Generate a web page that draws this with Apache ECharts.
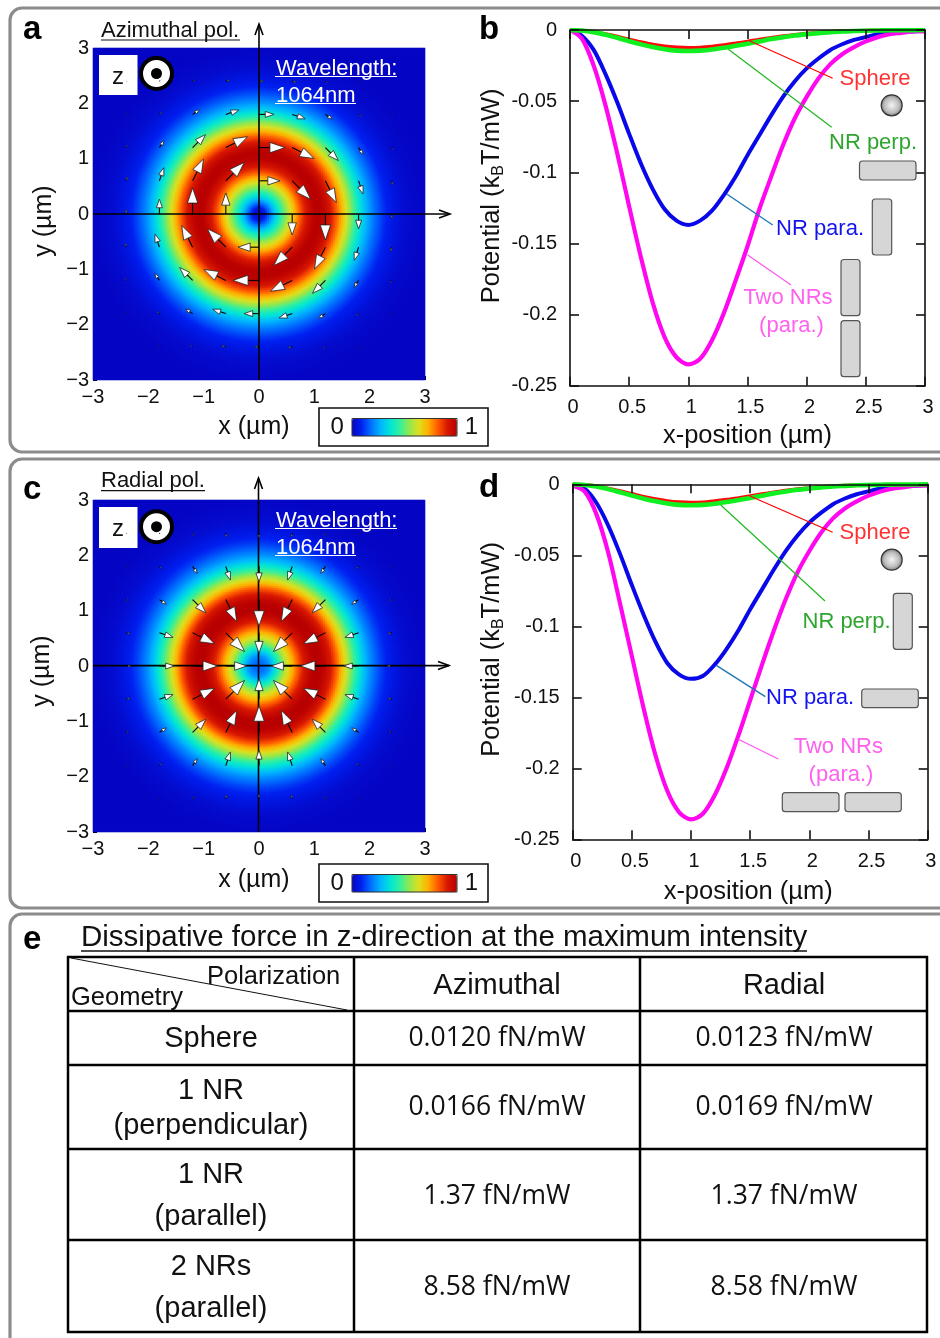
<!DOCTYPE html>
<html><head><meta charset="utf-8">
<style>html,body{margin:0;padding:0;background:#fff}#c{width:940px;height:1338px}</style>
<script src="https://cdn.jsdelivr.net/npm/echarts@6/dist/echarts.min.js"></script>
</head><body><div id="c"></div>
<script>
// ---------- data ----------
const xPositions = [0,0.1,0.2,0.3,0.4,0.5,0.6,0.7,0.8,0.9,1,1.1,1.2,1.3,1.4,1.5,1.6,1.7,1.8,1.9,2,2.1,2.2,2.3,2.4,2.5,2.6,2.7,2.8,2.9,3];
const twoNRsB = [0,-0.006,-0.025,-0.053,-0.087,-0.124,-0.160,-0.192,-0.216,-0.230,-0.235,-0.231,-0.218,-0.199,-0.176,-0.152,-0.126,-0.103,-0.081,-0.062,-0.047,-0.034,-0.024,-0.017,-0.012,-0.008,-0.005,-0.003,-0.002,-0.001,-0.001];
const nrParaB = [0,-0.004,-0.014,-0.031,-0.051,-0.073,-0.094,-0.112,-0.126,-0.134,-0.137,-0.134,-0.127,-0.116,-0.103,-0.088,-0.074,-0.060,-0.047,-0.036,-0.027,-0.020,-0.014,-0.010,-0.007,-0.005,-0.003,-0.002,-0.001,-0.001,0];
const nrPerpB = [0,-0.0004,-0.0015,-0.0033,-0.0055,-0.0079,-0.0101,-0.0120,-0.0135,-0.0145,-0.0148,-0.0145,-0.0137,-0.0125,-0.0111,-0.0096,-0.0080,-0.0064,-0.0051,-0.0039,-0.0030,-0.0022,-0.0015,-0.0011,-0.0007,-0.0005,-0.0003,-0.0002,-0.0001,-0.0001,0];
const sphereB = [0,-0.0003,-0.0013,-0.0028,-0.0046,-0.0066,-0.0085,-0.0102,-0.0115,-0.0122,-0.0125,-0.0123,-0.0116,-0.0106,-0.0094,-0.0081,-0.0067,-0.0055,-0.0043,-0.0033,-0.0025,-0.0018,-0.0013,-0.0009,-0.0006,-0.0004,-0.0003,-0.0002,-0.0001,-0.0001,0];
const twoNRsD = [-0.001,-0.005,-0.021,-0.048,-0.084,-0.121,-0.158,-0.191,-0.216,-0.231,-0.236,-0.232,-0.219,-0.200,-0.177,-0.152,-0.127,-0.103,-0.081,-0.062,-0.047,-0.034,-0.024,-0.017,-0.012,-0.008,-0.005,-0.003,-0.002,-0.001,-0.001];
const nrParaD = [-0.001,-0.003,-0.013,-0.029,-0.049,-0.071,-0.092,-0.111,-0.126,-0.134,-0.137,-0.135,-0.127,-0.116,-0.103,-0.088,-0.074,-0.060,-0.047,-0.036,-0.027,-0.020,-0.014,-0.010,-0.007,-0.005,-0.003,-0.002,-0.001,-0.001,0];
const nrPerpD = [0,-0.0005,-0.0016,-0.0034,-0.0056,-0.0079,-0.0101,-0.0120,-0.0135,-0.0145,-0.0148,-0.0145,-0.0137,-0.0125,-0.0111,-0.0096,-0.0080,-0.0064,-0.0051,-0.0039,-0.0030,-0.0022,-0.0015,-0.0011,-0.0007,-0.0005,-0.0003,-0.0002,-0.0001,-0.0001,0];
const sphereD = [0,-0.0003,-0.0013,-0.0029,-0.0047,-0.0067,-0.0087,-0.0104,-0.0117,-0.0125,-0.0128,-0.0126,-0.0118,-0.0108,-0.0096,-0.0083,-0.0069,-0.0056,-0.0044,-0.0034,-0.0026,-0.0018,-0.0013,-0.0009,-0.0006,-0.0004,-0.0003,-0.0002,-0.0001,-0.0001,0];

// intensity against radius (one value each 0.1 µm), colour scale and arrow grid
const ringAzimuthal = [0,0.06,0.19,0.32,0.44,0.55,0.66,0.77,0.87,0.94,0.99,1,0.97,0.91,0.82,0.72,0.61,0.5,0.4,0.31,0.24,0.18,0.135,0.095,0.07,0.05,0.03,0.02,0.012,0.006,0.002,0];
const ringRadial = [0.17,0.18,0.24,0.36,0.49,0.61,0.71,0.81,0.9,0.96,1,1,0.97,0.91,0.82,0.71,0.6,0.49,0.39,0.3,0.23,0.175,0.13,0.095,0.07,0.05,0.03,0.02,0.012,0.006,0.002,0];
const jetColors = ['#0606c4','#0020f0','#0070ff','#00b4ff','#00e4d8','#30f0a0','#90e850','#dce020','#ffb000','#ff5a00','#d81800','#b80000'];
const arrowGrid = [-2.4,-1.8,-1.2,-0.6,0,0.6,1.2,1.8,2.4];
const arrowLengthsAzimuthal = [
 [0.005,0.015,0.04,0.07,0.08,0.07,0.04,0.015,0.005],
 [0.015,0.05,0.15,0.25,0.27,0.25,0.15,0.05,0.015],
 [0.04,0.15,0.33,0.44,0.47,0.44,0.33,0.15,0.04],
 [0.07,0.25,0.44,0.47,0.38,0.47,0.44,0.25,0.07],
 [0.08,0.27,0.47,0.38,0,0.38,0.47,0.27,0.08],
 [0.07,0.25,0.44,0.47,0.38,0.47,0.44,0.25,0.07],
 [0.04,0.15,0.33,0.44,0.47,0.44,0.33,0.15,0.04],
 [0.015,0.05,0.15,0.25,0.27,0.25,0.15,0.05,0.015],
 [0.005,0.015,0.04,0.07,0.08,0.07,0.04,0.015,0.005]];
const arrowLengthsRadial = [
 [0.005,0.015,0.04,0.07,0.08,0.07,0.04,0.015,0.005],
 [0.015,0.05,0.15,0.26,0.28,0.26,0.15,0.05,0.015],
 [0.04,0.15,0.34,0.44,0.48,0.44,0.34,0.15,0.04],
 [0.07,0.26,0.44,0.48,0.37,0.48,0.44,0.26,0.07],
 [0.08,0.27,0.45,0.38,0,0.38,0.45,0.27,0.08],
 [0.07,0.26,0.44,0.48,0.37,0.48,0.44,0.26,0.07],
 [0.04,0.15,0.34,0.44,0.48,0.44,0.34,0.15,0.04],
 [0.015,0.05,0.15,0.26,0.28,0.26,0.15,0.05,0.015],
 [0.005,0.015,0.04,0.07,0.08,0.07,0.04,0.015,0.005]];
const heatTicks = [-3,3,1];

// table
const tableTitle = 'Dissipative force in z-direction at the maximum intensity';
const tableColumns = ['Azimuthal','Radial'];
const tableRows = [['Sphere'],['1 NR','(perpendicular)'],['1 NR','(parallel)'],['2 NRs','(parallel)']];
const tableAzimuthal = ['0.0120 fN/mW','0.0166 fN/mW','1.37 fN/mW','8.58 fN/mW'];
const tableRadial = ['0.0123 fN/mW','0.0169 fN/mW','1.37 fN/mW','8.58 fN/mW'];

// ---------- builders ----------
const SANS = '"Liberation Sans", Arial, sans-serif';
const CELLS = 166;
function sampleRing(p, r){
  const t = r/0.1, i = Math.floor(t);
  if (i >= p.length-1) return 0;
  return p[i] + (p[i+1]-p[i])*(t-i);
}
function heatData(p){
  const out = [];
  for (let i=0;i<CELLS;i++) for (let j=0;j<CELLS;j++){
    const x = -3+(i+0.5)*6/CELLS, y = -3+(j+0.5)*6/CELLS;
    out.push([i,j,sampleRing(p,Math.hypot(x,y))]);
  }
  return out;
}
const cellNames = Array.from({length:CELLS},(_,i)=>String(i));
function arrowData(table, clockwise){
  const out = [];
  table.forEach((row,ri)=>row.forEach((len,ci)=>{
    if(!len) return;
    const x = arrowGrid[ci], y = arrowGrid[8-ri], r = Math.hypot(x,y);
    const ux = clockwise ? y/r : -x/r, uy = clockwise ? -x/r : -y/r;
    out.push([x,y,ux*len,uy*len]);
  }));
  return out;
}
function renderArrow(params, api){
  const x=api.value(0), y=api.value(1), dx=api.value(2), dy=api.value(3);
  const a=api.coord([x,y]), b=api.coord([x+dx,y+dy]);
  const vx=b[0]-a[0], vy=b[1]-a[1];
  const bx=b[0]-vx*0.58, by=b[1]-vy*0.58, nx=-vy*0.2, ny=vx*0.2;
  return {type:'group',children:[
    {type:'line',shape:{x1:a[0],y1:a[1],x2:bx,y2:by},style:{stroke:'#000',lineWidth:1.1}},
    {type:'polygon',shape:{points:[[b[0],b[1]],[bx+nx,by+ny],[bx-nx,by-ny]]},style:{fill:'#fff',stroke:'#222',lineWidth:0.8}}
  ]};
}
const minusFmt = v => v<0 ? '\u2212'+(-v) : String(v);
function heatValueAxis(kind, gridIndex, extra){
  return Object.assign({type:'value',gridIndex,min:heatTicks[0],max:heatTicks[1],interval:heatTicks[2],splitLine:{show:false},
    axisLine:{show:false,onZero:false},axisTick:{inside:true,length:4,lineStyle:{color:'#000',width:1}},
    axisLabel:{formatter:minusFmt,color:'#111',fontFamily:SANS,fontSize:20,margin:kind==='x'?7:4,padding:kind==='y'?[4,0,0,0]:0,showMinLabel:true,showMaxLabel:true},
    nameLocation:'middle',nameTextStyle:{color:'#111',fontFamily:SANS,fontSize:25}},extra);
}
const hiddenCat = g => ({type:'category',gridIndex:g,data:cellNames,show:false});
function potXAxis(g,margin,gap,shift){ return {type:'value',gridIndex:g,z:5,min:0,max:3,interval:0.5,position:'bottom',splitLine:{show:false},
  axisLine:{onZero:false,lineStyle:{color:'#111',width:1.6}},axisTick:{inside:true,length:9,lineStyle:{color:'#111',width:1.6}},
  axisLabel:{color:'#111',fontFamily:SANS,fontSize:20,margin,padding:[0,0,0,6],showMinLabel:true,showMaxLabel:true},
  name:'x-position (\u00b5m)',nameLocation:'middle',nameGap:gap,nameTextStyle:{color:'#111',fontFamily:SANS,fontSize:25.5,padding:[0,shift,0,0]}}; }
function potXTop(g){ return {type:'value',gridIndex:g,z:5,min:0,max:3,interval:0.5,position:'top',splitLine:{show:false},
  axisLine:{onZero:false,lineStyle:{color:'#111',width:1.6}},axisTick:{inside:true,length:9,lineStyle:{color:'#111',width:1.6}},axisLabel:{show:false}}; }
function potYAxis(g,shift,gap){ return {type:'value',gridIndex:g,z:5,min:-0.25,max:0,interval:0.05,position:'left',splitLine:{show:false},
  axisLine:{onZero:false,lineStyle:{color:'#111',width:1.6}},axisTick:{inside:true,length:9,lineStyle:{color:'#111',width:1.6}},
  axisLabel:{color:'#111',fontFamily:SANS,fontSize:20,margin:13,padding:[4,0,0,0],formatter:v=>String(parseFloat(v.toFixed(2))),showMinLabel:true,showMaxLabel:true},
  name:'{a|Potential (k}{b|B}{a|T/mW)}',nameLocation:'middle',nameGap:gap,
  nameTextStyle:{padding:[0,0,0,shift],rich:{a:{fontFamily:SANS,fontSize:25.5,color:'#111',lineHeight:30},b:{fontFamily:SANS,fontSize:16,color:'#111',verticalAlign:'bottom',lineHeight:22}}}}; }
function potYRight(g){ return {type:'value',gridIndex:g,z:5,min:-0.25,max:0,interval:0.05,position:'right',splitLine:{show:false},
  axisLine:{onZero:false,lineStyle:{color:'#111',width:1.6}},axisTick:{inside:true,length:9,lineStyle:{color:'#111',width:1.6}},axisLabel:{show:false}}; }
function curve(name,data,color,width,xi,yi){
  return {type:'line',name,xAxisIndex:xi,yAxisIndex:yi,data:xPositions.map((x,i)=>[x,data[i]]),smooth:0.3,showSymbol:false,clip:true,
    lineStyle:{color,width},itemStyle:{color},animation:false,z:3};
}

// ---------- annotation drawing ----------
const G = [];
const Z = 50;
function T(text,x,y,size,fill,opt){ G.push({type:'text',x,y:y+2,z:Z+2,silent:true,style:Object.assign({text,fill:fill||'#111',fontFamily:SANS,fontSize:size,align:'left',verticalAlign:'middle'},opt||{})}); }
function L(x1,y1,x2,y2,stroke,w,z){ G.push({type:'line',z:z===undefined?Z:z,silent:true,shape:{x1,y1,x2,y2},style:{stroke,lineWidth:w}}); }
function R(x,y,w,h,fill,stroke,lw,r,z){ G.push({type:'rect',z:z===undefined?Z:z,silent:true,shape:{x,y,width:w,height:h,r:r||0},style:{fill,stroke,lineWidth:lw||0}}); }
function NR(x1,y1,x2,y2){ R(x1,y1,x2-x1,y2-y1,'#d6d6d6','#555',1.2,3); }
function sphere(cx,cy){ G.push({type:'circle',z:Z,silent:true,shape:{cx,cy,r:10.5},style:{stroke:'#333',lineWidth:1.2,
  fill:{type:'radial',x:0.5,y:0.5,r:0.55,colorStops:[{offset:0,color:'#f4f4f4'},{offset:0.6,color:'#bdbdbd'},{offset:1,color:'#6a6a6a'}]}}}); }
function openArrowUp(x,y){ G.push({type:'polyline',z:Z,silent:true,shape:{points:[[x-4,y+11],[x,y],[x+4,y+11]]},style:{stroke:'#000',fill:null,lineWidth:1.6}}); }
function openArrowRight(x,y){ G.push({type:'polyline',z:Z,silent:true,shape:{points:[[x-11,y-4],[x,y],[x-11,y+4]]},style:{stroke:'#000',fill:null,lineWidth:1.6}}); }
function heatDecor(cx,cy,left,bottom,axisTop,axisRight,boxY,boxH,circleY,title,titleW,titleY,ulY,waveY,barBoxY){
  L(cx,axisTop,cx,bottom,'#000',1.6); openArrowUp(cx,axisTop);
  L(left,cy,axisRight,cy,'#000',1.6); openArrowRight(axisRight,cy);
  R(99,boxY,38.5,boxH,'#fff','#fff',0);
  T('z',118,boxY+boxH/2,24,'#111',{align:'center'});
  G.push({type:'circle',z:Z,silent:true,shape:{cx:156.5,cy:circleY,r:15.5},style:{fill:'#fff',stroke:'#000',lineWidth:4}});
  G.push({type:'circle',z:Z,silent:true,shape:{cx:156.5,cy:circleY,r:5.5},style:{fill:'#000'}});
  T(title,101,titleY,22); L(101,ulY,101+titleW,ulY,'#111',1.2);
  T('Wavelength:',276,waveY,22,'#fff'); L(275,waveY+10,397,waveY+10,'#fff',1.2);
  T('1064nm',276,waveY+27,22,'#fff'); L(275,waveY+37,356,waveY+37,'#fff',1.2);
  R(319,barBoxY,169,38,'#fff','#111',1.6,0,1);
  R(352,barBoxY+10.5,105,17.5,null,'#333',1,0,Z);
}
// panel frames
[[10,8,444],[10,459,449],[10,914,460]].forEach(f=>R(f[0],f[1],960,f[2],'#fff','#8c8c8c',3.2,12,0));
// letters
[['a',23,28],['b',479,28],['c',23,488],['d',479,486],['e',23,938]].forEach(l=>T(l[0],l[1],l[2],33,'#000',{fontWeight:'bold'}));

heatDecor(259,214,93,380,24,450,55,40,73.5,'Azimuthal pol.',139,28.5,40,66.5,408);
heatDecor(258.5,665.6,93,832,478,449,507,41,526.7,'Radial pol.',104,478.5,490.7,518.5,864);

// callouts panel b
L(749.3,40.7,832.7,78.3,'#ff0000',1.2); L(728.3,49.3,831.7,127.3,'#1fb81f',1.2);
L(726.7,194,772.7,225,'#1f78b4',1.4); L(747.7,255,791,285,'#ff55ee',1.2);
T('Sphere',839.5,76.5,22,'#ff3333'); T('NR perp.',829,141,22,'#2ea52e'); T('NR para.',776,226.5,22,'#1414f0');
T('Two NRs',788,296,22,'#ff60ee',{align:'center'}); T('(para.)',791.5,324,22,'#ff60ee',{align:'center'});
sphere(891.7,105.3); NR(859.5,161,916,180); NR(872.3,199,891.7,255); NR(841,259.5,860,315.7); NR(841,320.7,860,376.7);
// callouts panel d
L(749.3,495.7,832.7,532.3,'#ff0000',1.2); L(720.7,505,825,601,'#1fb81f',1.2);
L(716.7,665.7,765.3,696.7,'#1f78b4',1.4); L(738.3,739.3,778.3,759,'#ff55ee',1.2);
T('Sphere',839.5,531,22,'#ff3333'); T('NR perp.',802.5,619.5,22,'#2ea52e'); T('NR para.',766,696,22,'#1414f0');
T('Two NRs',838.3,745,22,'#ff60ee',{align:'center'}); T('(para.)',841,772.5,22,'#ff60ee',{align:'center'});
sphere(891.7,559.7); NR(893.3,593.3,912.3,649.3); NR(861.7,689,918.3,707.7); NR(782.3,792.7,839,811.7); NR(845,792.7,901.3,811.7);

// table
const colX=[68,354,640,927], rowY=[957,1011,1065,1149,1240,1332];
colX.forEach(x=>L(x,rowY[0]-1,x,rowY[5]+1,'#000',2.5));
rowY.forEach(y=>L(colX[0]-1,y,colX[3]+1,y,'#000',2.5));
L(71,958,347,1010,'#111',1);
T(tableTitle,81,935.5,29.5,'#111'); L(81,951,807,951,'#111',1.4);
T('Polarization',207,975,25.5); T('Geometry',71,996,25.5);
const colCx=[211,497,784];
T(tableColumns[0],colCx[1],983.5,29,'#111',{align:'center'});
T(tableColumns[1],colCx[2],983.5,29,'#111',{align:'center'});
const labelY=[[1036.5],[1088.5,1123.5],[1172.5,1215],[1264.5,1306.5]], valueY=[1036.5,1105.5,1194.5,1285.5];
tableRows.forEach((lines,i)=>{
  lines.forEach((s,k)=>T(s,colCx[0],labelY[i][k],29,'#111',{align:'center'}));
  T(tableAzimuthal[i],colCx[1],valueY[i],26.5,'#111',{align:'center',fontFamily:'"Open Sans", sans-serif'});
  T(tableRadial[i],colCx[2],valueY[i],26.5,'#111',{align:'center',fontFamily:'"Open Sans", sans-serif'});
});

// ---------- chart ----------
const vmBase = {type:'continuous',min:0,max:1,orient:'horizontal',calculable:false,realtime:false,hoverLink:false,
  itemWidth:17.5,itemHeight:105,text:['1','0'],textGap:8,padding:0,inRange:{color:jetColors},
  textStyle:{fontFamily:SANS,fontSize:24,color:'#111'},z:10};
const chart = echarts.init(document.getElementById('c'),null,{renderer:'canvas'});
chart.setOption({
  animation:false,
  backgroundColor:'#fff',
  grid:[
    {left:93,top:48,width:332,height:332},
    {left:93,top:500,width:332,height:332},
    {left:570,top:30,width:355,height:355.7},
    {left:572.7,top:484.3,width:355,height:355}
  ],
  xAxis:[
    heatValueAxis('x',0,{name:'x (\u00b5m)',nameGap:35,nameTextStyle:{color:'#111',fontFamily:SANS,fontSize:25,padding:[0,10,0,0]}}),
    hiddenCat(0),
    heatValueAxis('x',1,{name:'x (\u00b5m)',nameGap:36,nameTextStyle:{color:'#111',fontFamily:SANS,fontSize:25,padding:[0,10,0,0]}}),
    hiddenCat(1),
    potXAxis(2,12,37,0),potXTop(2),potXAxis(3,12,40,4),potXTop(3)
  ],
  yAxis:[
    heatValueAxis('y',0,{name:'y (\u00b5m)',nameGap:36,nameTextStyle:{color:'#111',fontFamily:SANS,fontSize:25,padding:[0,0,0,-14]}}),
    hiddenCat(0),
    heatValueAxis('y',1,{name:'y (\u00b5m)',nameGap:38,nameTextStyle:{color:'#111',fontFamily:SANS,fontSize:25,padding:[0,0,0,-10]}}),
    hiddenCat(1),
    potYAxis(2,24,63),potYRight(2),potYAxis(3,25,66),potYRight(3)
  ],
  visualMap:[
    Object.assign({},vmBase,{seriesIndex:0,left:330.5,top:415.5}),
    Object.assign({},vmBase,{seriesIndex:2,left:330.5,top:871.5})
  ],
  graphic:{elements:G},
  series:[
    {type:'heatmap',name:'Azimuthal intensity',xAxisIndex:1,yAxisIndex:1,data:heatData(ringAzimuthal),progressive:0,animation:false,silent:true,z:1},
    {type:'custom',name:'Azimuthal force',xAxisIndex:0,yAxisIndex:0,data:arrowData(arrowLengthsAzimuthal,true),renderItem:renderArrow,encode:{x:0,y:1},clip:false,silent:true,z:60},
    {type:'heatmap',name:'Radial intensity',xAxisIndex:3,yAxisIndex:3,data:heatData(ringRadial),progressive:0,animation:false,silent:true,z:1},
    {type:'custom',name:'Radial force',xAxisIndex:2,yAxisIndex:2,data:arrowData(arrowLengthsRadial,false),renderItem:renderArrow,encode:{x:0,y:1},clip:false,silent:true,z:60},
    curve('NR para.',nrParaB,'#0808e8',4,4,4),
    curve('Two NRs (para.)',twoNRsB,'#ff08f0',4.2,4,4),
    curve('Sphere',sphereB,'#ff0808',3.6,4,4),
    curve('NR perp.',nrPerpB,'#10f020',4.6,4,4),
    curve('NR para.',nrParaD,'#0808e8',4,6,6),
    curve('Two NRs (para.)',twoNRsD,'#ff08f0',4.2,6,6),
    curve('Sphere',sphereD,'#ff0808',3.6,6,6),
    curve('NR perp.',nrPerpD,'#10f020',4.6,6,6)
  ]
});
</script></body></html>
